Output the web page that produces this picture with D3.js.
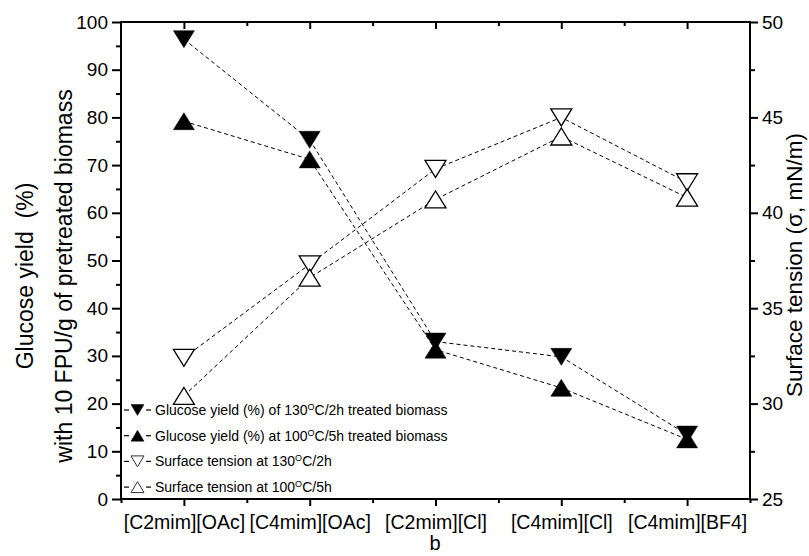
<!DOCTYPE html>
<html lang="en">
<head>
<meta charset="UTF-8" />
<title>Glucose yield and surface tension</title>
<style>
  html, body { margin: 0; padding: 0; background: #fff; }
  svg { display: block; }
  text { font-family: "Liberation Sans", Arial, sans-serif; fill: #000; }
</style>
</head>
<body>
<div id="stage"></div>
<script src="https://d3js.org/d3.v7.min.js"></script>
<script>
// data
const categories = ["[C2mim][OAc]", "[C4mim][OAc]", "[C2mim][Cl]", "[C4mim][Cl]", "[C4mim][BF4]"];
const yield130 = [96.4, 75.3, 33.0, 29.8, 13.5];   // glucose yield (%), 130 C / 2h
const yield100 = [79.2, 71.2, 31.3, 23.3, 12.5];   // glucose yield (%), 100 C / 5h
const tension130 = [32.4, 37.3, 42.3, 45.0, 41.6]; // surface tension, 130 C / 2h
const tension100 = [30.4, 36.6, 40.7, 44.0, 40.8]; // surface tension, 100 C / 5h
const leftTicks = [0, 10, 20, 30, 40, 50, 60, 70, 80, 90, 100];
const rightTicks = [25, 30, 35, 40, 45, 50];

const W = 809, H = 556;
const box = { left: 121, right: 750, top: 22, bottom: 499 };

const svg = d3.select("#stage").append("svg").attr("width", W).attr("height", H);

const x = d3.scaleLinear().domain([0.5, 5.5]).range([box.left, box.right]);
const yL = d3.scaleLinear().domain([0, 100]).range([box.bottom, box.top]);
const yR = d3.scaleLinear().domain([25, 50]).range([box.bottom, box.top]);

// ticks: major and minor
function styleAxis(g) {
  g.select(".domain").remove();
  g.selectAll(".tick line").attr("stroke", "#000").attr("stroke-width", 2);
  g.selectAll(".tick text").style("font-size", "19px");
}

svg.append("g").attr("transform", `translate(${box.left},0)`)
  .call(d3.axisLeft(yL).tickValues(d3.range(5, 100, 10)).tickSize(5).tickFormat(""))
  .call(styleAxis);
svg.append("g").attr("transform", `translate(${box.left},0)`)
  .call(d3.axisLeft(yL).tickValues(leftTicks).tickSize(9).tickPadding(4))
  .call(styleAxis);

svg.append("g").attr("transform", `translate(${box.right},0)`)
  .call(d3.axisRight(yR).tickValues(d3.range(27.5, 50, 5)).tickSize(5).tickFormat(""))
  .call(styleAxis);
svg.append("g").attr("transform", `translate(${box.right},0)`)
  .call(d3.axisRight(yR).tickValues(rightTicks).tickSize(8).tickPadding(4))
  .call(styleAxis);

svg.append("g").attr("transform", `translate(0,${box.bottom})`)
  .call(d3.axisBottom(x).tickValues(d3.range(0.5, 6, 1)).tickSize(4).tickFormat(""))
  .call(styleAxis);
svg.append("g").attr("transform", `translate(0,${box.bottom})`)
  .call(d3.axisBottom(x).tickValues([1, 2, 3, 4, 5]).tickSize(7).tickPadding(9)
    .tickFormat(d => categories[d - 1]))
  .call(styleAxis)
  .call(g => g.selectAll(".tick text").style("font-size", "19.5px"));

svg.append("g").attr("transform", `translate(0,${box.top})`)
  .call(d3.axisTop(x).tickValues(d3.range(1.5, 5, 1)).tickSize(-4).tickFormat(""))
  .call(styleAxis);
svg.append("g").attr("transform", `translate(0,${box.top})`)
  .call(d3.axisTop(x).tickValues([1, 2, 3, 4, 5]).tickSize(-7).tickFormat(""))
  .call(styleAxis);

// frame
svg.append("rect")
  .attr("x", box.left).attr("y", box.top)
  .attr("width", box.right - box.left).attr("height", box.bottom - box.top)
  .attr("fill", "none").attr("stroke", "#000").attr("stroke-width", 2);

// triangle marker paths (bbox centred)
function tri(w, h, down) {
  const s = down ? -1 : 1;
  return `M${-w / 2},${s * h / 2}L${w / 2},${s * h / 2}L0,${-s * h / 2}Z`;
}

const series = [
  { name: "Glucose yield (%) of 130", tail: "C/2h treated biomass", values: yield130, y: yL, down: true, filled: true },
  { name: "Glucose yield (%) at 100", tail: "C/5h treated biomass", values: yield100, y: yL, down: false, filled: true },
  { name: "Surface tension at 130", tail: "C/2h", values: tension130, y: yR, down: true, filled: false },
  { name: "Surface tension at 100", tail: "C/5h", values: tension100, y: yR, down: false, filled: false }
];

const plot = svg.append("g");

series.forEach(s => {
  const line = d3.line().x((d, i) => x(i + 1)).y(d => s.y(d));
  plot.append("path")
    .attr("d", line(s.values))
    .attr("fill", "none")
    .attr("stroke", "#000")
    .attr("stroke-width", 1)
    .attr("stroke-dasharray", "4,3");
});

series.forEach(s => {
  plot.append("g").selectAll("path")
    .data(s.values)
    .join("path")
    .attr("transform", (d, i) => `translate(${x(i + 1)},${s.y(d)})`)
    .attr("d", tri(21, 17, s.down))
    .attr("fill", s.filled ? "#000" : "#fff")
    .attr("stroke", "#000")
    .attr("stroke-width", s.filled ? 0.5 : 1.3);
});

// legend
const legend = svg.append("g").attr("transform", "translate(124,410)");
series.forEach((s, i) => {
  const g = legend.append("g").attr("transform", `translate(0,${i * 25.7})`);
  g.append("line").attr("x1", 0).attr("x2", 5).attr("stroke", "#000").attr("stroke-width", 1.2);
  g.append("line").attr("x1", 22).attr("x2", 27).attr("stroke", "#000").attr("stroke-width", 1.2);
  g.append("path")
    .attr("transform", "translate(13.5,0)")
    .attr("d", tri(13, 11, s.down))
    .attr("fill", s.filled ? "#000" : "#fff")
    .attr("stroke", s.filled ? "#000" : "#333")
    .attr("stroke-width", s.filled ? 0.5 : 1);
  const t = g.append("text").attr("x", 31).attr("y", 5).style("font-size", "14px");
  t.append("tspan").text(s.name);
  t.append("tspan").attr("dy", -5).style("font-size", "9px").text("O");
  t.append("tspan").attr("dy", 5).text(s.tail);
});

// axis titles
const cy = 276;
const leftTitle = svg.append("g");
leftTitle.append("text")
  .attr("transform", `translate(33,${cy}) rotate(-90)`)
  .attr("text-anchor", "middle")
  .style("font-size", "23px")
  .style("white-space", "pre")
  .text("Glucose yield  (%)");
leftTitle.append("text")
  .attr("transform", `translate(72,${cy}) rotate(-90)`)
  .attr("text-anchor", "middle")
  .style("font-size", "23px")
  .text("with 10 FPU/g of pretreated biomass");

svg.append("text")
  .attr("transform", "translate(802,265) rotate(-90)")
  .attr("text-anchor", "middle")
  .style("font-size", "22.5px")
  .text("Surface tension (\u03c3, mN/m)");

svg.append("text")
  .attr("x", 435).attr("y", 550)
  .attr("text-anchor", "middle")
  .style("font-size", "20px")
  .text("b");
</script>
</body>
</html>
